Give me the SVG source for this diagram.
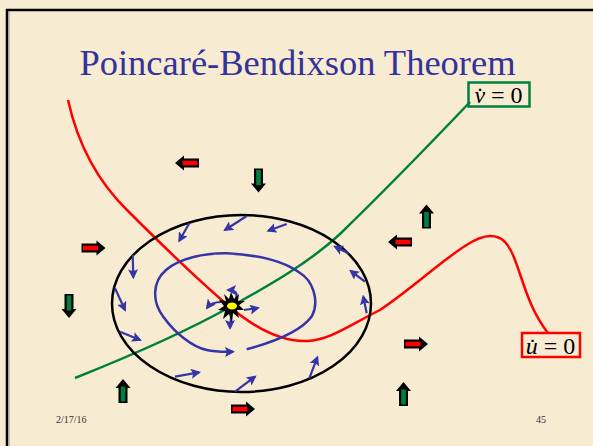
<svg xmlns="http://www.w3.org/2000/svg" width="593" height="446" viewBox="0 0 593 446">
<style>
.serif{font-family:"Liberation Serif","Times New Roman",serif}
.flow{fill:none;stroke:#3535a8;stroke-width:2.2;marker-end:url(#bh)}
.lbl{fill:none;stroke-width:2.5}
</style>
<defs>
<marker id="bh" markerUnits="userSpaceOnUse" markerWidth="10" markerHeight="10" viewBox="0 0 10 10" refX="8" refY="5" orient="auto">
<path d="M0,0 L10,5 L0,10 L2,5 Z" fill="#3535a8"/>
</marker>
<g id="rarr">
<polygon points="-12,-4.5 3,-4.5 3,-7.5 12,0 3,7.5 3,4.5 -12,4.5" fill="#000"/>
<rect x="-10.5" y="-2.3" width="15" height="4.6" fill="#ff0000"/>
</g>
<g id="garr">
<polygon points="-12,-4.5 3,-4.5 3,-7.5 12,0 3,7.5 3,4.5 -12,4.5" fill="#000"/>
<rect x="-10.5" y="-2.3" width="15" height="4.6" fill="#00803c"/>
</g>
</defs>
<rect width="593" height="446" fill="#f7ebd2"/>
<line x1="7" y1="9" x2="7" y2="446" stroke="#000" stroke-width="2.5"/>
<line x1="6" y1="10" x2="593" y2="10" stroke="#000" stroke-width="2.5"/>
<line x1="9" y1="12" x2="9" y2="446" stroke="#9a9a9a" stroke-width="1"/>

<g id="title">
<text class="serif" x="297.5" y="75" font-size="36.5" fill="#333399" text-anchor="middle">Poincaré-Bendixson Theorem</text>
</g>

<g id="connectors">
<path id="u-nullcline" d="M68,100 C78,145 98,182 128,211 C160,243 200,282 230,307 C255,328 280,342 307,341 C330,340 350,325 380,310 C410,290 440,262 465,246 C480,236 495,232 505,242 C520,258 522,300 548,333" fill="none" stroke="#ff0000" stroke-width="2.5"/>
<path id="v-nullcline" d="M75,378 C120,360 180,335 230,307 C270,285 310,262 340,234 C375,200 410,165 470,102" fill="none" stroke="#00803c" stroke-width="2.5"/>
</g>

<g id="trapping-region">
<ellipse cx="241.5" cy="303.5" rx="129.5" ry="88.5" fill="none" stroke="#000" stroke-width="2.5"/>
</g>

<g id="spiral">
<path d="M246.7,349.3 C270,343 300,333 312,316 C320,300 312,280 300,273 C285,262 262,255 226.7,253.3 C205,253 180,258 166,270 C152,282 152,302 163.3,316.7 C175,333 192,347 206.7,350 C215,352 222,352 233,351.7" fill="none" stroke="#3535a8" stroke-width="2.5" marker-end="url(#bh)"/>
</g>

<g id="flow-arrows">
<line class="flow" x1="246.7" y1="216" x2="225" y2="230"/>
<line class="flow" x1="286.7" y1="224" x2="268.3" y2="230.7"/>
<line class="flow" x1="189.3" y1="223.3" x2="179.3" y2="240.7"/>
<line class="flow" x1="132.7" y1="255" x2="133.3" y2="277.3"/>
<line class="flow" x1="115" y1="288.3" x2="125" y2="310"/>
<line class="flow" x1="120" y1="331.7" x2="140" y2="340"/>
<line class="flow" x1="175" y1="376.7" x2="199" y2="372.3"/>
<line class="flow" x1="235" y1="391.7" x2="255" y2="376.7"/>
<line class="flow" x1="309.3" y1="378.3" x2="317.3" y2="357.3"/>
<line class="flow" x1="366.7" y1="313.3" x2="363.3" y2="296.7"/>
<line class="flow" x1="365" y1="281.7" x2="350.7" y2="271"/>
<line class="flow" x1="348.3" y1="253.3" x2="335" y2="246.7"/>
</g>

<g id="equilibrium">
<path class="flow" d="M236,298 C238,293 235,290 228,290"/>
<path class="flow" d="M221,302 C215,302 210,304 207,308"/>
<path class="flow" d="M244,310 C249,309 253,309 258,308"/>
<path class="flow" d="M231,317 C231,321 230,324 230,328"/>
<polygon points="231,292 234,299 239,294 238,301 245,301 239,305 244,310 237,310 239,318 233,313 232,323 229,314 223,319 225,311 218,310 224,306 219,300 226,301 224,294 229,299" fill="#000"/>
<ellipse cx="232" cy="306" rx="5" ry="3.5" fill="#ffff00"/>
</g>

<g id="block-arrows">
<use href="#rarr" transform="translate(187,163) rotate(180)"/>
<use href="#rarr" transform="translate(93.5,248)"/>
<use href="#rarr" transform="translate(400,242) rotate(180)"/>
<use href="#rarr" transform="translate(416,344)"/>
<use href="#rarr" transform="translate(243,409)"/>
<use href="#garr" transform="translate(258.5,180.5) rotate(90)"/>
<use href="#garr" transform="translate(426.5,216.5) rotate(-90)"/>
<use href="#garr" transform="translate(69,306) rotate(90)"/>
<use href="#garr" transform="translate(123,391) rotate(-90)"/>
<use href="#garr" transform="translate(403.5,394) rotate(-90)"/>
</g>

<g id="v-label">
<rect class="lbl" x="468.5" y="82.5" width="61" height="24" stroke="#00803c"/>
<text class="serif" x="498.5" y="102.5" font-size="24" text-anchor="middle" fill="#000"><tspan font-style="italic">v̇</tspan> = 0</text>
</g>

<g id="u-label">
<rect class="lbl" x="522" y="333" width="58" height="24" stroke="#ff0000"/>
<text class="serif" x="550.5" y="353.5" font-size="24" text-anchor="middle" fill="#000"><tspan font-style="italic">u̇</tspan> = 0</text>
</g>

<g id="footer">
<text class="serif" x="56" y="423" font-size="10" fill="#333">2/17/16</text>
<text class="serif" x="536" y="423" font-size="10" fill="#333">45</text>
</g>
</svg>
